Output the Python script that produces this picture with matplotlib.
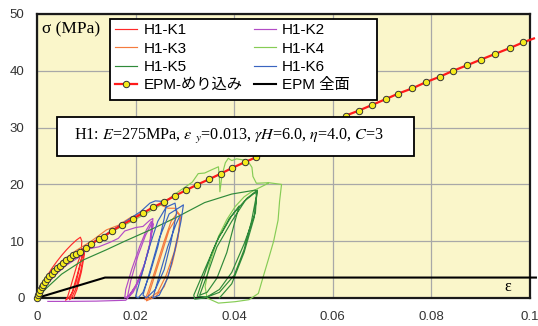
import matplotlib
matplotlib.use("Agg")
import matplotlib.pyplot as plt
from matplotlib.patches import Rectangle

# --- données ---
eps_epm = [0.0, 0.0002, 0.0004, 0.0007, 0.0010, 0.0013, 0.0017, 0.0021, 0.0025, 0.0030,
           0.0035, 0.0040, 0.0046, 0.0052, 0.0059, 0.0066, 0.0074, 0.0080, 0.0087, 0.0099,
           0.0109, 0.0126, 0.0135, 0.0153, 0.0173, 0.0194, 0.0214, 0.0236, 0.0257, 0.0279,
           0.0302, 0.0325, 0.0349, 0.0373, 0.0396, 0.0421, 0.0445, 0.0470, 0.0495, 0.0521,
           0.0547, 0.0573, 0.0599, 0.0626, 0.0653, 0.0680, 0.0707, 0.0733, 0.0761, 0.0789,
           0.0817, 0.0844, 0.0872, 0.0900, 0.0930, 0.0959, 0.0986, 0.1008]
sig_epm = [0.0, 0.5, 0.9, 1.4, 1.9, 2.3, 2.8, 3.3, 3.8, 4.3,
           4.8, 5.2, 5.7, 6.2, 6.7, 7.1, 7.5, 7.8, 8.15, 8.86,
           9.45, 10.4, 10.8, 11.85, 12.9, 13.9, 14.9, 16.0, 16.9, 17.96,
           18.96, 19.96, 20.9, 21.9, 22.9, 23.9, 24.8, 25.8, 26.7, 27.7,
           28.6, 29.6, 30.5, 32.1, 33.0, 34.0, 35.0, 36.0, 36.9, 38.0,
           38.96, 40.0, 40.96, 41.96, 43.0, 44.0, 45.0, 45.7]

eps_full = [0.0, 0.0138, 0.1012]
sig_full = [0.0, 3.6, 3.6]

eps_k1 = [0, 0.0010, 0.0020, 0.0030, 0.0040, 0.0050, 0.0060, 0.0070, 0.0080, 0.0088, 0.0091,
          0.0090, 0.0093, 0.0088, 0.0080, 0.0072, 0.0064, 0.0058, 0.0062, 0.0070, 0.0080,
          0.0090, 0.0095, 0.0094, 0.0088, 0.0078, 0.0070, 0.0066, 0.0072, 0.0082, 0.0092,
          0.0097, 0.0096, 0.0090, 0.0081, 0.0074]
sig_k1 = [0, 2.0, 3.8, 5.2, 6.4, 7.5, 8.5, 9.4, 10.2, 10.7, 10.0,
          8.8, 8.2, 6.0, 3.0, 1.0, 0.0, -0.4, 0.2, 2.5, 5.5,
          8.0, 8.6, 7.2, 4.5, 1.5, 0.0, -0.3, 1.2, 4.2, 7.5,
          8.9, 7.6, 4.6, 1.5, 0.0]

eps_k2 = [0, 0.002, 0.004, 0.006, 0.0087, 0.0101, 0.0125, 0.0148, 0.0165, 0.0178, 0.0200,
          0.0215, 0.0229, 0.0235, 0.0234, 0.0228, 0.0215, 0.0200, 0.0185, 0.0178, 0.0180,
          0.0192, 0.0208, 0.0222, 0.0232, 0.0236, 0.0230, 0.0218, 0.0202, 0.0188, 0.0183,
          0.0190, 0.0205, 0.0220, 0.0233, 0.0228, 0.0212, 0.0195, 0.0180, 0.0120, 0.0060,
          0.0022]
sig_k2 = [0, 2.4, 4.3, 5.8, 7.3, 8.6, 9.0, 9.8, 10.5, 11.8, 12.4,
          12.6, 13.7, 14.0, 12.5, 9.0, 5.0, 2.0, 0.3, 0.0, 1.5,
          5.0, 9.0, 12.0, 13.5, 13.0, 10.0, 6.0, 2.5, 0.5, 0.0,
          3.0, 7.5, 11.0, 13.2, 9.0, 4.0, 1.0, -0.4, -0.55, -0.6,
          -0.6]

eps_k3 = [0, 0.002, 0.005, 0.008, 0.011, 0.0141, 0.0165, 0.019, 0.022, 0.025, 0.0266,
          0.028, 0.0290, 0.0288, 0.0278, 0.0262, 0.0245, 0.0228, 0.0219, 0.0225, 0.0240,
          0.0258, 0.0272, 0.0285, 0.0292, 0.0286, 0.0274, 0.0258, 0.0240, 0.0222, 0.0230,
          0.0250, 0.0268, 0.0282]
sig_k3 = [0, 3.5, 6.5, 8.4, 10.0, 12.0, 12.8, 14.2, 15.2, 16.4, 15.8,
          15.8, 14.5, 12.0, 8.0, 4.0, 1.0, 0.0, -0.3, 1.0, 5.0,
          10.0, 13.5, 15.0, 14.5, 10.5, 6.0, 2.0, 0.2, -0.5, 1.5,
          7.0, 12.0, 14.0]

eps_k4 = [0, 0.002, 0.004, 0.006, 0.0087, 0.012, 0.015, 0.019, 0.022, 0.025, 0.028,
          0.0300, 0.0315, 0.0327, 0.0340, 0.0355, 0.0368, 0.0370, 0.0371, 0.0375, 0.0382,
          0.0388, 0.0395, 0.0405, 0.0419, 0.0430, 0.0436, 0.0438, 0.0445, 0.0470, 0.0496,
          0.0492, 0.0489, 0.0480, 0.0469, 0.0458, 0.0449, 0.0430, 0.0402, 0.0368, 0.0345,
          0.0341, 0.0350, 0.0368, 0.0385, 0.0402, 0.0420, 0.0435, 0.0469]
sig_k4 = [0, 2.9, 5.0, 6.6, 8.2, 10.0, 11.6, 13.4, 14.8, 16.3, 18.3,
          19.5, 20.4, 21.9, 22.0, 22.6, 23.1, 21.0, 18.7, 21.5, 23.8,
          24.6, 24.2, 24.5, 24.3, 23.8, 23.0, 21.4, 20.2, 20.3, 20.0,
          17.0, 13.7, 10.0, 6.7, 3.5, 0.8, -0.3, -0.65, -0.9, 0.0,
          2.0, 6.0, 10.8, 13.8, 16.1, 17.8, 18.7, 20.2]

eps_k5 = [0, 0.002, 0.005, 0.0094, 0.0141, 0.0178, 0.023, 0.0285, 0.034, 0.0395, 0.0443,
          0.0445, 0.0435, 0.042, 0.040, 0.037, 0.034, 0.032, 0.0318, 0.034, 0.0365,
          0.039, 0.042, 0.0446, 0.0443, 0.042, 0.0395, 0.037, 0.0345, 0.0325, 0.0335,
          0.0355, 0.037, 0.0375, 0.0395, 0.041, 0.0400, 0.0385, 0.0365, 0.0345, 0.0330,
          0.0345, 0.0365, 0.0395, 0.0425, 0.0447, 0.0440, 0.0420, 0.0395, 0.0370]
sig_k5 = [0, 1.8, 4.2, 6.7, 8.5, 10.0, 12.0, 14.3, 16.8, 18.3, 19.0,
          18.0, 13.5, 8.5, 4.0, 1.0, 0.0, -0.2, 0.5, 5.0, 10.0,
          14.0, 17.0, 18.8, 15.0, 9.5, 4.5, 1.5, 0.2, 0.3, 3.0,
          8.0, 11.0, 11.5, 14.5, 16.2, 13.0, 8.0, 3.5, 1.0, 0.5,
          4.0, 9.0, 13.5, 17.5, 19.0, 14.0, 8.0, 2.5, 0.0]

eps_k6 = [0, 0.002, 0.005, 0.0087, 0.012, 0.015, 0.018, 0.021, 0.0229, 0.024, 0.0255,
          0.0262, 0.0258, 0.0245, 0.0228, 0.0215, 0.0205, 0.0200, 0.0212, 0.0228, 0.0245,
          0.0262, 0.0280, 0.0283, 0.0272, 0.0258, 0.0240, 0.0222, 0.0215, 0.0230, 0.0248,
          0.0268, 0.0290, 0.0297, 0.0292, 0.0280, 0.0265, 0.0248, 0.0235, 0.0245, 0.0265,
          0.0282, 0.0290]
sig_k6 = [0, 3.3, 6.0, 8.3, 10.2, 11.8, 13.5, 15.2, 16.7, 17.1, 17.0,
          16.2, 14.0, 9.0, 4.0, 1.0, 0.0, 0.3, 4.0, 9.0, 13.5,
          16.0, 16.7, 15.0, 10.0, 5.0, 1.5, 0.0, 0.5, 5.0, 10.5,
          14.8, 16.0, 16.4, 13.5, 8.5, 3.5, 0.5, 0.0, 3.0, 9.0,
          13.0, 14.5]

x_ticks = [0, 0.02, 0.04, 0.06, 0.08, 0.1]
x_labels = ["0", "0.02", "0.04", "0.06", "0.08", "0.1"]
y_ticks = [0, 10, 20, 30, 40, 50]

plt.rcParams["font.family"] = ["Liberation Sans", "Noto Sans CJK JP", "DejaVu Sans"]
plt.rcParams["mathtext.fontset"] = "stix"

fig = plt.figure(figsize=(5.38, 3.26), dpi=100)
ax = fig.add_axes([37 / 538, 28 / 326, 493 / 538, 284 / 326])
ax.set_facecolor("#FAF6CA")

# courbes expérimentales
series = [
    ("H1-K1", eps_k1, sig_k1, "#FF2A2A"),
    ("H1-K2", eps_k2, sig_k2, "#B24CC6"),
    ("H1-K3", eps_k3, sig_k3, "#F47B3E"),
    ("H1-K4", eps_k4, sig_k4, "#86CC55"),
    ("H1-K5", eps_k5, sig_k5, "#2F8A3A"),
    ("H1-K6", eps_k6, sig_k6, "#3A64C0"),
]
handles = {}
for name, ex, sy, col in series:
    h, = ax.plot(ex, sy, color=col, lw=0.85, label=name, clip_on=False, zorder=3)
    handles[name] = h

# modèles EPM
h_m, = ax.plot(eps_epm, sig_epm, color="#FF1A1A", lw=1.6, marker="o", ms=4.6,
               mfc="#F5EC1E", mec="#333333", mew=0.7, markevery=slice(0, -1),
               label="EPM-めり込み", clip_on=False, zorder=5)
h_f, = ax.plot(eps_full, sig_full, color="black", lw=1.5, label="EPM 全面",
               clip_on=False, zorder=4)

ax.set_xlim(0, 0.1)
ax.set_ylim(0, 50)
ax.set_xticks(x_ticks)
ax.set_xticklabels(x_labels)
ax.set_yticks(y_ticks)
ax.grid(True, color="#A8A8A8", lw=0.9)
ax.set_axisbelow(True)
ax.tick_params(length=0, labelsize=9.5, colors="#333333")
ax.tick_params(axis="x", pad=9)
ax.tick_params(axis="y", pad=9)
for s in ax.spines.values():
    s.set_linewidth(1.6)
    s.set_color("#1A1A1A")

ax.text(0.01, 0.975, "σ (MPa)", transform=ax.transAxes, fontsize=12.5,
        family=["Liberation Serif", "DejaVu Serif"], va="top", ha="left")
ax.text(0.948, 0.012, "ε", transform=ax.transAxes, fontsize=11.5,
        family=["Liberation Serif", "DejaVu Serif"], va="bottom", ha="left")

# légende (cadre dessiné à part, plus large comme dans l'original)
ax.add_patch(Rectangle((0.148, 0.697), 0.5416, 0.285, transform=ax.transAxes,
                       fc="white", ec="black", lw=1.3, zorder=9, clip_on=False))
order = ["H1-K1", "H1-K3", "H1-K5"]
hs = [handles[n] for n in order] + [h_m] + [handles[n] for n in ["H1-K2", "H1-K4", "H1-K6"]] + [h_f]
leg = ax.legend(handles=hs, labels=[h.get_label() for h in hs], ncol=2,
                loc="upper left", bbox_to_anchor=(0.152, 0.978), borderaxespad=0,
                fontsize=11, frameon=False, handlelength=1.45, handletextpad=0.4,
                columnspacing=0.75, labelspacing=0.28, borderpad=0.2)
leg.set_zorder(10)

# encadré des paramètres
ax.add_patch(Rectangle((0.0406, 0.50), 0.7241, 0.137, transform=ax.transAxes,
                       fc="white", ec="black", lw=1.3, zorder=11))
ax.text(0.075, 0.568,
        r"H1: $E$=275MPa, $\varepsilon\ {}_{y}$=0.013, $\gamma H$=6.0, $\eta$=4.0, $C$=3",
        transform=ax.transAxes, fontsize=11.6, family=["Liberation Serif", "DejaVu Serif"],
        va="center", ha="left", zorder=12)

plt.savefig("out.png", dpi=100)
